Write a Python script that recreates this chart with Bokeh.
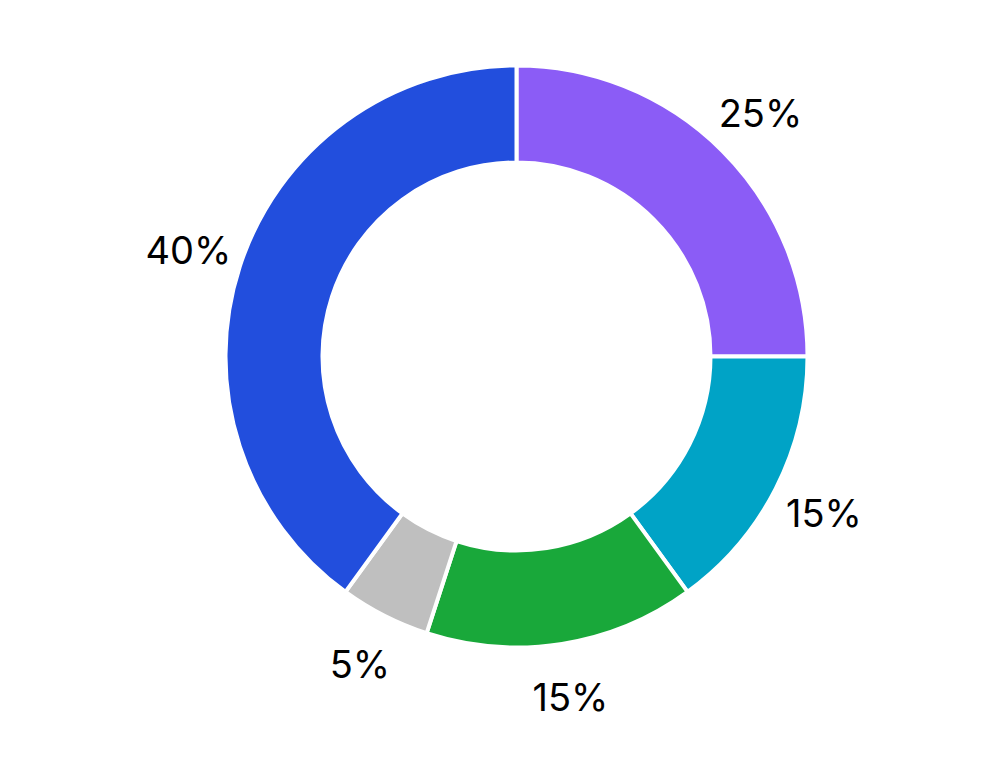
import math
from bokeh.plotting import figure
from bokeh.models import Range1d, ColumnDataSource
from bokeh.core.properties import value
from bokeh.embed import file_html
from bokeh.resources import INLINE

# ---- data (clockwise from 12 o'clock) ----
labels = ["25%", "15%", "15%", "5%", "40%"]
shares = [25, 15, 15, 5, 40]
colors = ["#8B5CF6", "#00A3C6", "#19A83A", "#BFBFBF", "#224EDD"]

# ---- layout ----
W, H = 983, 743
cx, cy = 517, 759 - 357
r_out, r_in = 291, 194
r_lab = 345

total = float(sum(shares))
starts, ends, lx, ly = [], [], [], []
cum = 0.0
for s in shares:
    a0 = cum / total
    a1 = (cum + s) / total
    starts.append(math.pi / 2 - a0 * 2 * math.pi)
    ends.append(math.pi / 2 - a1 * 2 * math.pi)
    mid = (a0 + a1) / 2 * 2 * math.pi
    lx.append(cx + r_lab * math.sin(mid))
    ly.append(cy + r_lab * math.cos(mid))
    cum += s

src = ColumnDataSource(dict(start=starts, end=ends, color=colors,
                            lx=lx, ly=ly, label=labels))

p = figure(width=W, height=H, x_range=Range1d(1, 1 + W), y_range=Range1d(758 - H, 758),
           output_backend="svg", toolbar_location=None, min_border=0)
p.axis.visible = False
p.grid.visible = False
p.outline_line_color = None
p.background_fill_color = "white"
p.border_fill_color = "white"

p.annular_wedge(x=cx, y=cy, inner_radius=r_in, outer_radius=r_out,
                start_angle="start", end_angle="end", direction="clock",
                fill_color="color", line_color="white", line_width=4, source=src)

p.text(x="lx", y="ly", text="label", source=src, text_align="center",
       text_baseline="middle", text_font=value("Inter"),
       text_font_size="38px", text_color="#000000")

open("out.html", "w").write(file_html(p, INLINE))
